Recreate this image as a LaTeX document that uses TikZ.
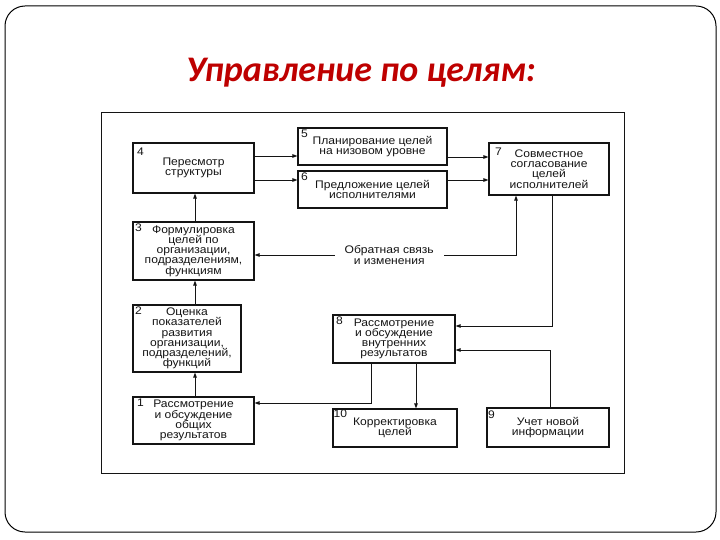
\documentclass[tikz,border=0pt]{standalone}
\usepackage{fontspec}
\setmainfont{Liberation Sans}
\newfontfamily\boxfont{Liberation Sans}[FakeStretch=1.1]
\newfontfamily\titlefont{Carlito}
\usetikzlibrary{arrows.meta}
\definecolor{titlered}{RGB}{190,0,0}
\definecolor{ink}{RGB}{20,20,20}
\newcommand\boxtextfont{\boxfont\fontsize{11bp}{10.2bp}\selectfont\setlength{\lineskip}{0pt}\setlength{\lineskiplimit}{-20pt}}
\begin{document}
\begin{tikzpicture}[x=1bp,y=-1bp,
  box/.style={draw=ink, line width=1.1bp, inner sep=0pt, align=center,
    font=\boxtextfont, text=ink},
  num/.style={inner sep=0pt, font=\boxfont\fontsize{11bp}{11bp}\selectfont, text=ink},
  arr/.style={draw=ink, line width=0.9bp, -{Triangle[length=5bp,width=3.5bp]}},
  arrboth/.style={draw=ink, line width=0.9bp, {Triangle[length=5bp,width=3.5bp]}-{Triangle[length=5bp,width=3.5bp]}},
  titlestyle/.style={font=\titlefont\bfseries\itshape\fontsize{36bp}{36bp}\selectfont, text=titlered}
]
\useasboundingbox (0,0) rectangle (720,540);
% slide frame
\draw[line width=1bp, rounded corners=20bp] (5,6) rectangle (716,532);
\node[titlestyle] (title) at (361,73) {Управление по целям:};
% diagram frame
\draw[draw=ink, line width=1bp] (101,113) rectangle (624,473);

% boxes
\node[box, minimum width=121bp, minimum height=50bp] (b4) at (193.5,168) {Пересмотр\\структуры};
\node[box, minimum width=149bp, minimum height=37bp] (b5) at (372.5,146.5) {Планирование целей\\на низовом уровне};
\node[box, minimum width=149bp, minimum height=37bp] (b6) at (372.5,189.5) {Предложение целей\\исполнителями};
\node[box, minimum width=120bp, minimum height=52bp] (b7) at (549,169) {Совместное\\согласование\\целей\\исполнителей};
\node[box, minimum width=121bp, minimum height=58bp] (b3) at (193.5,251) {Формулировка\\целей по\\организации,\\подразделениям,\\функциям};
\node[box, minimum width=108bp, minimum height=67bp] (b2) at (187,338.5) {Оценка\\показателей\\развития\\организации,\\подразделений,\\функций};
\node[box, minimum width=121bp, minimum height=47bp] (b1) at (193.5,420.5) {Рассмотрение\\и обсуждение\\общих\\результатов};
\node[box, minimum width=122bp, minimum height=48bp] (b8) at (394,339) {Рассмотрение\\и обсуждение\\внутренних\\результатов};
\node[box, minimum width=124bp, minimum height=38bp] (b10) at (395,428) {Корректировка\\целей};
\node[box, minimum width=122bp, minimum height=39bp] (b9) at (548,427.5) {Учет новой\\информации};

% numbers
\node[num] (n1) at ([shift={(8,6)}]b1.north west) {1};
\node[num] (n2) at ([shift={(6,6)}]b2.north west) {2};
\node[num] (n3) at ([shift={(6,6)}]b3.north west) {3};
\node[num] (n4) at ([shift={(8,9)}]b4.north west) {4};
\node[num] (n5) at ([shift={(7,6)}]b5.north west) {5};
\node[num] (n6) at ([shift={(7,6)}]b6.north west) {6};
\node[num] (n7) at ([shift={(10,9)}]b7.north west) {7};
\node[num] (n8) at ([shift={(7,6)}]b8.north west) {8};
\node[num] (n9) at ([shift={(5,7)}]b9.north west) {9};
\node[num] (n10) at ([shift={(8,5)}]b10.north west) {10};

% connectors
\draw[arr] ([yshift=12bp]b4.east) coordinate (a45) -- (a45 -| b5.west);
\draw[arr] ([yshift=-12bp]b4.east) coordinate (a46) -- (a46 -| b6.west);
\draw[arr] ([yshift=-10.5bp]b5.east) coordinate (a57) -- (a57 -| b7.west);
\draw[arr] ([yshift=9.5bp]b6.east) coordinate (a67) -- (a67 -| b7.west);

\coordinate (vx) at (195,0);
\draw[arr] (b3.north -| vx) -- (b4.south -| vx);
\draw[arr] (b2.north -| vx) -- (b3.south -| vx);
\draw[arr] (b1.north -| vx) -- (b2.south -| vx);

\coordinate (fb) at (516,255);
\draw[arrboth] (b3.east |- fb) -- node[fill=white, inner xsep=10bp, inner ysep=1bp, align=center,
   font=\boxfont\fontsize{11bp}{11bp}\selectfont, text=ink, pos=0.515] (fbl) {Обратная связь\\и изменения} (fb) -- (b7.south -| fb);

\coordinate (c78) at (552,326);
\draw[arr] (b7.south -| c78) |- (b8.east |- c78);
\coordinate (c98) at (550,350);
\draw[arr] (b9.north -| c98) |- (b8.east |- c98);
\coordinate (c810) at (416,0);
\draw[arr] (b8.south -| c810) -- (b10.north -| c810);
\coordinate (c81) at (371,403);
\draw[arr] (b8.south -| c81) |- (b1.east |- c81);
\end{tikzpicture}
\end{document}
